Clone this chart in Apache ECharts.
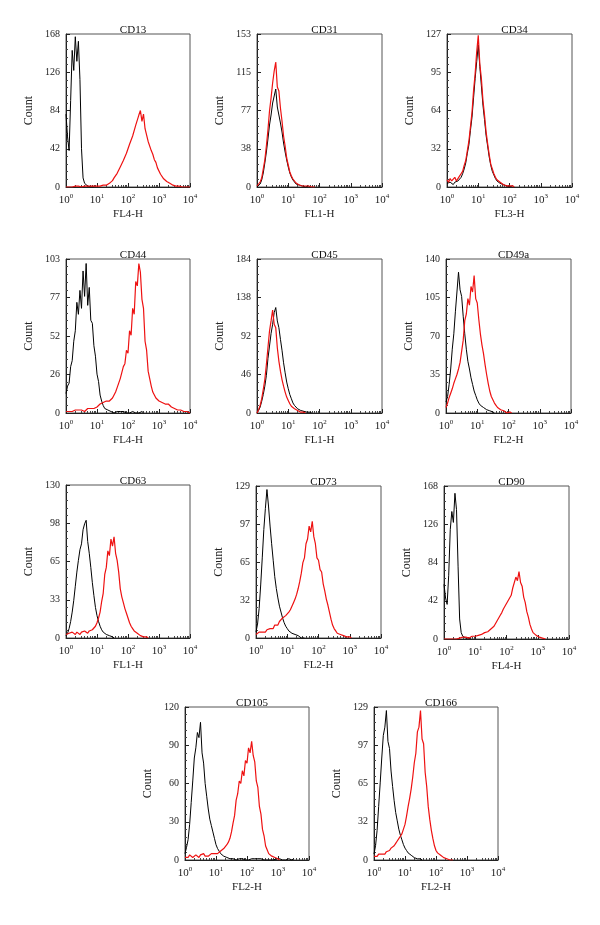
<!DOCTYPE html>
<html><head><meta charset="utf-8">
<script src="https://cdn.jsdelivr.net/npm/echarts@6/dist/echarts.min.js"></script>
<style>html,body{margin:0;padding:0;background:#fff}#c{width:600px;height:925px}</style>
</head><body><div id="c"></div>
<script>
// bin spacing in log10 units (channel positions)
const STEP = 0.05;
const titles = ['CD13','CD31','CD34','CD44','CD45','CD49a','CD63','CD73','CD90','CD105','CD166'];
const xNames = ['FL4-H','FL1-H','FL3-H','FL4-H','FL1-H','FL2-H','FL1-H','FL2-H','FL4-H','FL2-H','FL2-H'];
const yMax = [168,153,127,103,184,140,130,129,168,120,129];

const cd13Black = [80,55,40,95,150,128,165,138,160,118,42,10,4,2,1,0,0,1,0];
const cd13Red = [0,0,0,0,0,0,1,0,1,1,0,1,1,0,1,1,1,0,1,1,1,2,1,2,2,1,2,3,4,5,7,10,9,15,16,22,23,29,30,37,38,47,46,56,58,68,66,79,84,72,80,64,62,50,48,40,36,30,27,21,19,14,13,9,8,6,5,4,3,2,2,1,1,1,1,0,1,0,0,0,0];
const cd31Black = [0,1,3,7,14,24,35,48,62,72,84,86,98,80,78,64,55,44,35,27,20,14,10,7,5,3,2,2,1,1,1,0,0,1,0];
const cd31Red = [1,2,5,9,18,27,41,57,76,89,104,116,125,100,96,79,66,51,41,29,22,15,11,8,6,4,3,2,2,1,1,1,0,1,0,0,1,0];
const cd34Black = [3,2,4,3,2,4,3,5,6,8,11,15,20,28,35,47,58,74,90,104,118,100,84,68,56,43,34,25,18,13,10,7,5,4,3,2,2,1,1,1,0,0,1,0];
const cd34Red = [6,4,7,5,6,8,5,7,9,11,13,18,22,30,38,50,62,80,94,112,126,102,90,72,60,46,36,27,19,15,11,8,6,5,4,3,2,2,1,1,1,0,1,0];
const cd44Black = [13,18,20,31,35,48,55,74,66,82,70,95,78,100,72,84,62,60,45,38,26,21,12,8,5,3,2,2,1,1,1,0,1,1,0,1,0,1,0,0,1,0,0,1,0,0,1,0,0,1,0];
const cd44Red = [1,0,1,2,1,1,2,1,2,1,2,2,1,2,3,2,3,2,3,4,4,5,6,5,7,6,8,7,8,9,10,12,14,17,20,23,27,31,33,42,40,55,52,70,66,88,85,100,94,76,70,48,42,28,23,18,14,12,10,9,8,7,7,6,6,5,6,5,4,4,3,3,2,2,2,1,1,1,1,1,0];
const cd45Black = [0,3,7,14,22,32,45,65,80,95,106,120,126,110,102,88,75,60,48,37,29,22,17,12,9,7,5,4,3,2,2,1,1,0,1,0];
const cd45Red = [0,4,9,17,28,40,58,78,98,110,123,106,102,78,62,50,40,32,25,19,15,11,8,6,5,4,3,2,1,0,1,0];
const cd49aBlack = [10,15,26,40,58,72,92,110,128,112,106,88,72,58,47,40,32,26,20,16,12,9,7,6,5,4,3,2,2,1,1,0];
const cd49aRed = [5,9,14,18,22,27,31,35,40,46,56,66,84,90,104,98,115,110,125,104,100,85,72,62,54,44,35,27,20,15,12,9,7,5,4,3,2,2,1,0,1,1,0];
const cd63Black = [2,4,8,14,22,32,44,56,66,75,80,92,97,100,82,72,60,47,36,26,19,14,10,7,5,4,3,2,2,1,1,0];
const cd63Red = [3,2,4,3,5,4,3,5,4,3,5,4,6,5,4,6,5,7,8,10,13,17,22,31,38,54,60,74,70,84,78,86,72,66,56,42,35,30,25,21,17,13,10,8,6,5,4,3,2,2,1,0,1,0];
const cd73Black = [5,12,25,45,68,92,110,126,112,95,80,66,52,42,34,27,22,17,13,10,8,6,5,4,3,3,2,2,1,0,1,0];
const cd73Red = [3,4,5,4,5,6,5,7,6,8,9,8,11,12,11,14,15,17,16,19,20,22,24,27,30,33,37,42,48,55,64,68,80,84,95,90,99,86,80,68,66,58,56,46,40,33,28,22,16,11,8,6,4,3,3,2,2,1,1,0,1,0];
const cd90Black = [60,45,38,70,120,140,128,160,142,80,22,7,3,2,1,0,1,0];
const cd90Red = [0,0,0,0,0,0,0,0,0,0,1,1,2,1,2,2,1,2,3,2,3,3,4,5,5,6,7,8,8,10,11,12,14,17,20,23,26,29,33,36,39,42,45,48,56,58,68,64,74,62,58,46,40,30,24,16,11,7,5,4,3,2,2,1,1,0];
const cd105Black = [5,10,16,28,45,62,80,88,100,96,108,84,76,60,50,40,32,27,22,17,12,9,7,5,4,3,2,2,1,1,2,1,1,0,1,1,0,1,1,0,1,0,1,1,0,1,0,1,0,1,1,0,1,0,1,0,1,0,0,1,0,1,0,0,1,0,0,1,0,0,1];
const cd105Red = [2,3,2,4,3,2,3,4,3,2,4,3,5,3,4,3,4,5,4,5,6,5,6,7,8,9,10,12,14,17,22,29,35,47,52,62,60,70,66,78,76,88,84,93,82,77,62,57,42,36,24,19,11,8,5,4,3,2,2,1,1,0];
const cd166Black = [5,12,25,45,65,86,105,112,126,100,94,75,62,50,40,33,26,21,17,13,10,8,6,5,4,3,2,2,1,0,1,0];
const cd166Red = [3,4,3,5,4,5,6,5,7,7,8,10,11,12,14,16,18,20,22,26,30,37,45,52,60,70,82,90,108,112,126,102,98,74,62,45,34,25,18,12,8,6,5,4,3,2,2,1,1,0,1,0];

const blackSets = [cd13Black,cd31Black,cd34Black,cd44Black,cd45Black,cd49aBlack,cd63Black,cd73Black,cd90Black,cd105Black,cd166Black];
const redSets = [cd13Red,cd31Red,cd34Red,cd44Red,cd45Red,cd49aRed,cd63Red,cd73Red,cd90Red,cd105Red,cd166Red];

// layout [left, top, width, height]
const layout = [
  [66,34,124,153],[257,34,125,153],[447,34,125,153],
  [66,259,124,154],[257,259,125,154],[446,259,125,154],
  [66,485,124,153],[256,486,125,152],[444,486,125,153],
  [185,707,124,153],[374,707,124,153]
];
const FONT = '"Liberation Serif", "DejaVu Serif", serif';

const toData = arr => arr.map((v,i) => [Math.pow(10, i*STEP), v]);

const grid = [], xAxis = [], yAxis = [], series = [], title = [];
layout.forEach((g, k) => {
  grid.push({left:g[0], top:g[1], width:g[2], height:g[3], show:true, borderColor:'#555', borderWidth:1, backgroundColor:'transparent'});
  title.push({text:titles[k], left:g[0]+g[2]/2, top:g[1]-14, textAlign:'center',
    textStyle:{fontFamily:FONT, fontSize:11, fontWeight:'normal', color:'#111'}});
  xAxis.push({gridIndex:k, type:'log', logBase:10, min:1, max:10000,
    name:xNames[k], nameLocation:'middle', nameGap:22,
    nameTextStyle:{fontFamily:FONT, fontSize:11, color:'#222'},
    axisLine:{show:true, lineStyle:{color:'#222', width:1}},
    axisTick:{show:true, inside:true, length:4, lineStyle:{color:'#222'}},
    minorTick:{show:true, splitNumber:9, length:2, lineStyle:{color:'#444'}},
    splitLine:{show:false},
    axisLabel:{margin:6, fontFamily:FONT, color:'#222',
      formatter: v => '{b|10}{s|' + Math.round(Math.log10(v)) + '}',
      rich:{b:{fontFamily:FONT, fontSize:11, color:'#222', lineHeight:14},
            s:{fontFamily:FONT, fontSize:7, color:'#222', verticalAlign:'top', lineHeight:9}}}
  });
  yAxis.push({gridIndex:k, type:'value', min:0, max:yMax[k], interval:yMax[k]/4,
    name:'Count', nameLocation:'middle', nameGap:31, nameRotate:90,
    nameTextStyle:{fontFamily:FONT, fontSize:12, color:'#222'},
    axisLine:{show:true, lineStyle:{color:'#222', width:1}},
    axisTick:{show:true, inside:true, length:4, lineStyle:{color:'#222'}},
    minorTick:{show:true, splitNumber:5, length:2, lineStyle:{color:'#444'}},
    splitLine:{show:false},
    axisLabel:{margin:6, fontFamily:FONT, fontSize:10, color:'#222',
      formatter: v => String(Math.round(v))}
  });
  series.push({type:'line', xAxisIndex:k, yAxisIndex:k, data:toData(blackSets[k]),
    showSymbol:false, symbol:'none', lineStyle:{color:'#000', width:1}, silent:true, animation:false});
  series.push({type:'line', xAxisIndex:k, yAxisIndex:k, data:toData(redSets[k]),
    showSymbol:false, symbol:'none', lineStyle:{color:'#ee1111', width:1.2}, silent:true, animation:false});
});

const chart = echarts.init(document.getElementById('c'), null, {renderer:'canvas'});
chart.setOption({animation:false, backgroundColor:'#fff', title, grid, xAxis, yAxis, series});
</script>
</body></html>
